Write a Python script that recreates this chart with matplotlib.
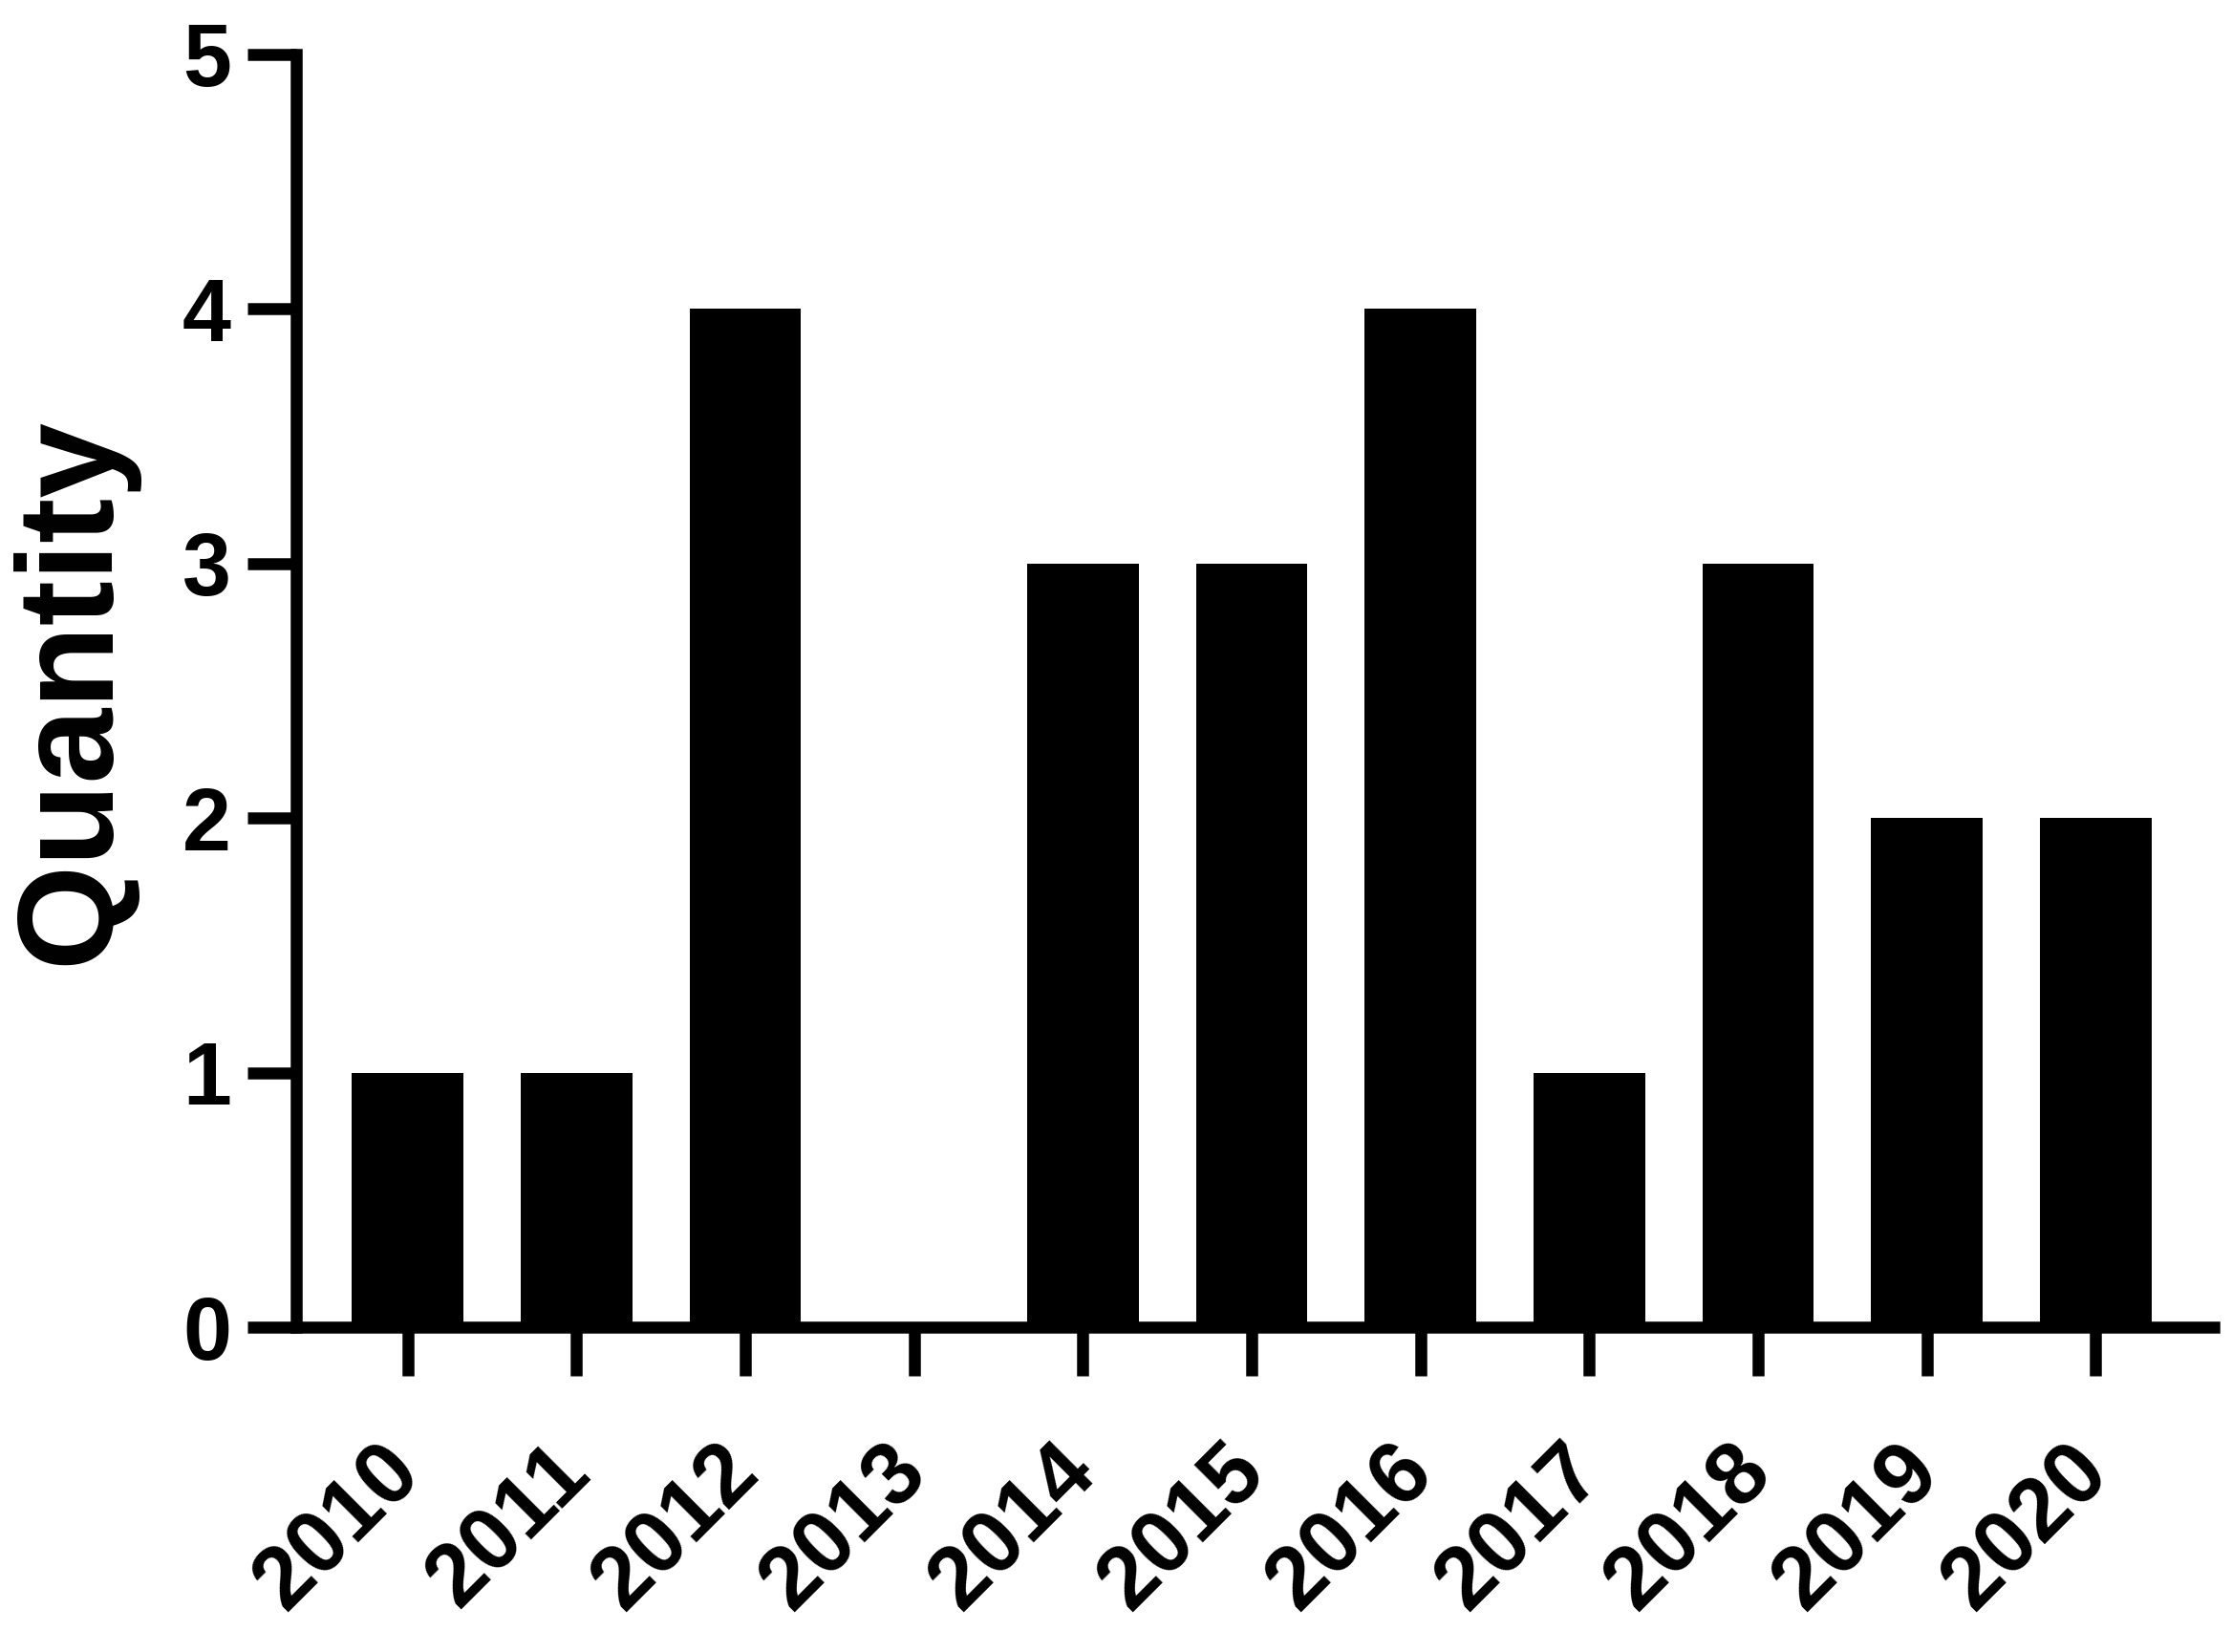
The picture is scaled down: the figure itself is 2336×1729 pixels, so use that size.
import matplotlib.pyplot as plt
from matplotlib.font_manager import FontProperties

years = ['2010', '2011', '2012', '2013', '2014', '2015', '2016', '2017', '2018', '2019', '2020']
quantity = [1, 1, 4, 0, 3, 3, 4, 1, 3, 2, 2]

plt.rcParams['font.family'] = ['Liberation Sans', 'DejaVu Sans']

tick_font = FontProperties(family='Liberation Sans', weight='bold', size=66)
label_font = FontProperties(family='Liberation Sans', weight='bold', size=102)

fig = plt.figure(figsize=(23.36, 17.29), dpi=100)
ax = fig.add_axes([310 / 2336, 1 - 1389 / 1729, 2007 / 2336, (1389 - 56.7) / 1729])

x = list(range(len(years)))
ax.bar(x, quantity, width=0.66, color='black')

ax.set_xlim(-0.66, 10.70)
ax.set_ylim(0, 5)

for side in ['top', 'right']:
    ax.spines[side].set_visible(False)
for side in ['left', 'bottom']:
    ax.spines[side].set_linewidth(9)
    ax.spines[side].set_capstyle('projecting')

ax.tick_params(axis='both', width=9, length=37, direction='out')
ax.tick_params(axis='y', pad=12)
ax.tick_params(axis='x', pad=62)

ax.set_yticks([0, 1, 2, 3, 4, 5])
ax.set_yticklabels(['0', '1', '2', '3', '4', '5'], fontproperties=tick_font)
ax.set_xticks(x)
ax.set_xticklabels(years, rotation=45, ha='right', va='center', rotation_mode='anchor',
                   fontproperties=tick_font)

ax.set_ylabel('Quantity', fontproperties=label_font, labelpad=34)

fig.savefig('out.png', dpi=100)
